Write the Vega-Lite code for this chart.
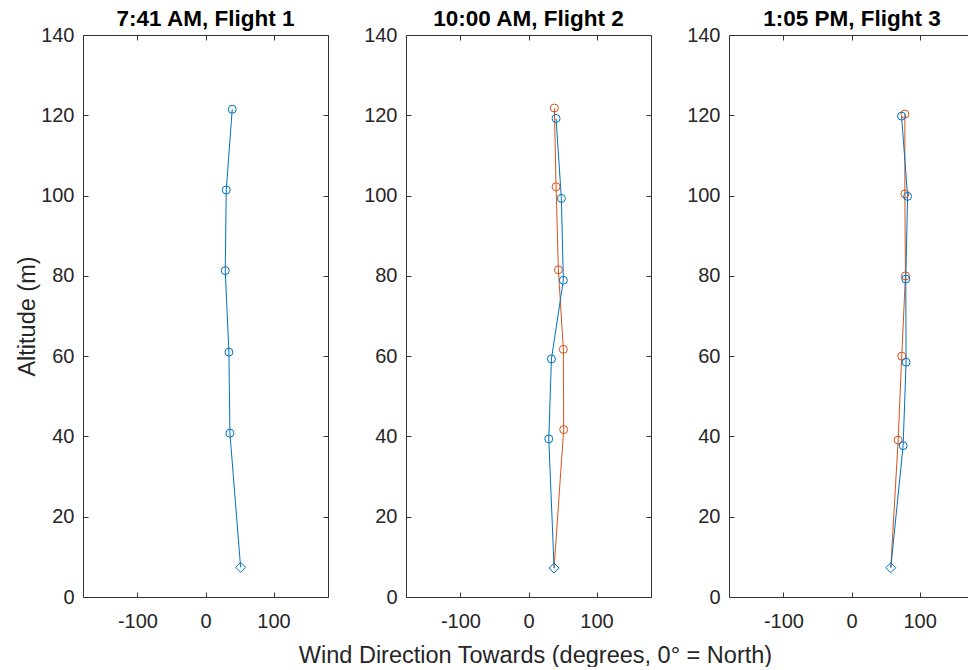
{
  "$schema": "https://vega.github.io/schema/vega-lite/v6.json",
  "background": "white",
  "padding": {"left": 15, "top": 7, "right": 0, "bottom": 0},
  "autosize": {"type": "pad"},
  "spacing": 78,
  "bounds": "flush",
  "config": {
    "view": {"stroke": null},
    "font": "Liberation Sans",
    "axis": {
      "domainColor": "#333333", "tickColor": "#333333", "labelColor": "#262626", "titleColor": "#262626",
      "labelFont": "Liberation Sans", "labelFontSize": 20, "titleFont": "Liberation Sans", "titleFontSize": 23.5,
      "titleFontWeight": "normal", "grid": false, "tickSize": -5, "domainWidth": 1, "tickWidth": 1,
      "labelFlush": false, "labelOverlap": false
    },
    "title": {"font": "Liberation Sans", "fontSize": 22.5, "fontWeight": "bold", "color": "#000000", "anchor": "middle", "frame": "group", "baseline": "alphabetic", "offset": -5}
  },
  "datasets": {
    "wind": [
      {"flight": 1, "series": "Profile A", "alt": 121.5, "dir": 39.3, "marker": "circle"},
      {"flight": 1, "series": "Profile A", "alt": 101.4, "dir": 30.5, "marker": "circle"},
      {"flight": 1, "series": "Profile A", "alt": 81.3, "dir": 29.0, "marker": "circle"},
      {"flight": 1, "series": "Profile A", "alt": 61.0, "dir": 34.4, "marker": "circle"},
      {"flight": 1, "series": "Profile A", "alt": 40.8, "dir": 35.9, "marker": "circle"},
      {"flight": 1, "series": "Profile A", "alt": 7.4, "dir": 51.6, "marker": "diamond"},
      {"flight": 2, "series": "Profile B", "alt": 121.8, "dir": 38.0, "marker": "circle"},
      {"flight": 2, "series": "Profile B", "alt": 102.2, "dir": 40.5, "marker": "circle"},
      {"flight": 2, "series": "Profile B", "alt": 81.5, "dir": 43.9, "marker": "circle"},
      {"flight": 2, "series": "Profile B", "alt": 61.7, "dir": 51.2, "marker": "circle"},
      {"flight": 2, "series": "Profile B", "alt": 41.7, "dir": 51.7, "marker": "circle"},
      {"flight": 2, "series": "Profile B", "alt": 7.2, "dir": 37.6, "marker": "none"},
      {"flight": 2, "series": "Profile A", "alt": 119.2, "dir": 40.5, "marker": "circle"},
      {"flight": 2, "series": "Profile A", "alt": 99.3, "dir": 48.3, "marker": "circle"},
      {"flight": 2, "series": "Profile A", "alt": 78.9, "dir": 51.2, "marker": "circle"},
      {"flight": 2, "series": "Profile A", "alt": 59.3, "dir": 33.7, "marker": "circle"},
      {"flight": 2, "series": "Profile A", "alt": 39.4, "dir": 29.8, "marker": "circle"},
      {"flight": 2, "series": "Profile A", "alt": 7.2, "dir": 37.6, "marker": "diamond"},
      {"flight": 3, "series": "Profile B", "alt": 120.3, "dir": 78.4, "marker": "circle"},
      {"flight": 3, "series": "Profile B", "alt": 100.4, "dir": 78.4, "marker": "circle"},
      {"flight": 3, "series": "Profile B", "alt": 80.0, "dir": 79.2, "marker": "circle"},
      {"flight": 3, "series": "Profile B", "alt": 60.0, "dir": 73.8, "marker": "circle"},
      {"flight": 3, "series": "Profile B", "alt": 39.1, "dir": 68.5, "marker": "circle"},
      {"flight": 3, "series": "Profile B", "alt": 7.3, "dir": 57.7, "marker": "none"},
      {"flight": 3, "series": "Profile A", "alt": 119.8, "dir": 73.5, "marker": "circle"},
      {"flight": 3, "series": "Profile A", "alt": 99.8, "dir": 82.4, "marker": "circle"},
      {"flight": 3, "series": "Profile A", "alt": 79.2, "dir": 79.7, "marker": "circle"},
      {"flight": 3, "series": "Profile A", "alt": 58.5, "dir": 80.2, "marker": "circle"},
      {"flight": 3, "series": "Profile A", "alt": 37.7, "dir": 75.8, "marker": "circle"},
      {"flight": 3, "series": "Profile A", "alt": 7.3, "dir": 57.7, "marker": "diamond"}
    ]
  },
  "hconcat": [
    {
      "width": 245, "height": 562,
      "title": {"text": "7:41 AM, Flight 1"},
      "data": {"name": "wind"},
      "transform": [{"filter": "datum.flight == 1"}],
      "layer": [
        {
          "mark": {"type": "line", "strokeWidth": 1},
          "encoding": {
            "x": {"field": "dir", "type": "quantitative", "scale": {"domain": [-180, 180], "nice": false, "zero": false},
                  "axis": {"orient": "bottom", "values": [-100, 0, 100], "labelExpr": "'' + datum.value", "labelPadding": 19, "title": null}},
            "y": {"field": "alt", "type": "quantitative", "scale": {"domain": [0, 140], "nice": false},
                  "axis": {"orient": "left", "values": [0, 20, 40, 60, 80, 100, 120, 140], "labelPadding": 14, "title": "Altitude (m)", "titlePadding": 6, "titleBaseline": "alphabetic"}},
            "color": {"field": "series", "type": "nominal", "scale": {"domain": ["Profile A", "Profile B"], "range": ["#0072BD", "#D95319"]}, "legend": null},
            "order": {"field": "alt", "type": "quantitative"}
          }
        },
        {
          "transform": [{"filter": "datum.marker == 'circle'"}],
          "mark": {"type": "point", "shape": "circle", "filled": false, "size": 64, "strokeWidth": 1, "opacity": 1},
          "encoding": {
            "x": {"field": "dir", "type": "quantitative", "axis": null},
            "y": {"field": "alt", "type": "quantitative", "axis": null},
            "color": {"field": "series", "type": "nominal", "legend": null}
          }
        },
        {
          "transform": [{"filter": "datum.marker == 'diamond'"}],
          "mark": {"type": "point", "shape": "M0,-1L1,0L0,1L-1,0Z", "filled": false, "fill": null, "size": 100, "strokeWidth": 1, "opacity": 1},
          "encoding": {
            "x": {"field": "dir", "type": "quantitative", "axis": null},
            "y": {"field": "alt", "type": "quantitative", "axis": null},
            "stroke": {"field": "series", "type": "nominal", "scale": {"domain": ["Profile A", "Profile B"], "range": ["#0072BD", "#D95319"]}, "legend": null}
          }
        },
        {
          "mark": {"type": "point", "opacity": 0},
          "encoding": {
            "x": {"field": "dir", "type": "quantitative", "axis": {"orient": "top", "values": [-100, 0, 100], "labels": false, "title": null}},
            "y": {"field": "alt", "type": "quantitative", "axis": {"orient": "right", "values": [0, 20, 40, 60, 80, 100, 120, 140], "labels": false, "title": null}}
          }
        }
      ],
      "resolve": {"axis": {"x": "independent", "y": "independent"}}
    },
    {
      "width": 245, "height": 562,
      "title": {"text": "10:00 AM, Flight 2"},
      "data": {"name": "wind"},
      "transform": [{"filter": "datum.flight == 2"}],
      "layer": [
        {
          "mark": {"type": "line", "strokeWidth": 1},
          "encoding": {
            "x": {"field": "dir", "type": "quantitative", "scale": {"domain": [-180, 180], "nice": false, "zero": false},
                  "axis": {"orient": "bottom", "values": [-100, 0, 100], "labelExpr": "'' + datum.value", "labelPadding": 19, "title": "Wind Direction Towards (degrees, 0° = North)", "titlePadding": 12, "titleX": 129, "titleAlign": "center"}},
            "y": {"field": "alt", "type": "quantitative", "scale": {"domain": [0, 140], "nice": false},
                  "axis": {"orient": "left", "values": [0, 20, 40, 60, 80, 100, 120, 140], "labelPadding": 14, "title": null}},
            "color": {"field": "series", "type": "nominal", "scale": {"domain": ["Profile A", "Profile B"], "range": ["#0072BD", "#D95319"]}, "legend": null},
            "order": {"field": "alt", "type": "quantitative"}
          }
        },
        {
          "transform": [{"filter": "datum.marker == 'circle'"}],
          "mark": {"type": "point", "shape": "circle", "filled": false, "size": 64, "strokeWidth": 1, "opacity": 1},
          "encoding": {
            "x": {"field": "dir", "type": "quantitative", "axis": null},
            "y": {"field": "alt", "type": "quantitative", "axis": null},
            "color": {"field": "series", "type": "nominal", "legend": null}
          }
        },
        {
          "transform": [{"filter": "datum.marker == 'diamond'"}],
          "mark": {"type": "point", "shape": "M0,-1L1,0L0,1L-1,0Z", "filled": false, "fill": null, "size": 100, "strokeWidth": 1, "opacity": 1},
          "encoding": {
            "x": {"field": "dir", "type": "quantitative", "axis": null},
            "y": {"field": "alt", "type": "quantitative", "axis": null},
            "stroke": {"field": "series", "type": "nominal", "scale": {"domain": ["Profile A", "Profile B"], "range": ["#0072BD", "#D95319"]}, "legend": null}
          }
        },
        {
          "mark": {"type": "point", "opacity": 0},
          "encoding": {
            "x": {"field": "dir", "type": "quantitative", "axis": {"orient": "top", "values": [-100, 0, 100], "labels": false, "title": null}},
            "y": {"field": "alt", "type": "quantitative", "axis": {"orient": "right", "values": [0, 20, 40, 60, 80, 100, 120, 140], "labels": false, "title": null}}
          }
        }
      ],
      "resolve": {"axis": {"x": "independent", "y": "independent"}}
    },
    {
      "width": 240, "height": 562,
      "title": {"text": "1:05 PM, Flight 3", "dx": 3},
      "data": {"name": "wind"},
      "transform": [{"filter": "datum.flight == 3"}],
      "layer": [
        {
          "mark": {"type": "line", "strokeWidth": 1},
          "encoding": {
            "x": {"field": "dir", "type": "quantitative", "scale": {"domain": [-180, 172.6], "nice": false, "zero": false},
                  "axis": {"orient": "bottom", "values": [-100, 0, 100], "labelExpr": "'' + datum.value", "labelPadding": 19, "title": null}},
            "y": {"field": "alt", "type": "quantitative", "scale": {"domain": [0, 140], "nice": false},
                  "axis": {"orient": "left", "values": [0, 20, 40, 60, 80, 100, 120, 140], "labelPadding": 14, "title": null}},
            "color": {"field": "series", "type": "nominal", "scale": {"domain": ["Profile A", "Profile B"], "range": ["#0072BD", "#D95319"]}, "legend": null},
            "order": {"field": "alt", "type": "quantitative"}
          }
        },
        {
          "transform": [{"filter": "datum.marker == 'circle'"}],
          "mark": {"type": "point", "shape": "circle", "filled": false, "size": 64, "strokeWidth": 1, "opacity": 1},
          "encoding": {
            "x": {"field": "dir", "type": "quantitative", "axis": null},
            "y": {"field": "alt", "type": "quantitative", "axis": null},
            "color": {"field": "series", "type": "nominal", "legend": null}
          }
        },
        {
          "transform": [{"filter": "datum.marker == 'diamond'"}],
          "mark": {"type": "point", "shape": "M0,-1L1,0L0,1L-1,0Z", "filled": false, "fill": null, "size": 100, "strokeWidth": 1, "opacity": 1},
          "encoding": {
            "x": {"field": "dir", "type": "quantitative", "axis": null},
            "y": {"field": "alt", "type": "quantitative", "axis": null},
            "stroke": {"field": "series", "type": "nominal", "scale": {"domain": ["Profile A", "Profile B"], "range": ["#0072BD", "#D95319"]}, "legend": null}
          }
        },
        {
          "mark": {"type": "point", "opacity": 0},
          "encoding": {
            "x": {"field": "dir", "type": "quantitative", "axis": {"orient": "top", "values": [-100, 0, 100], "labels": false, "title": null}},
            "y": {"field": "alt", "type": "quantitative", "axis": null}
          }
        }
      ],
      "resolve": {"axis": {"x": "independent", "y": "independent"}}
    }
  ]
}
